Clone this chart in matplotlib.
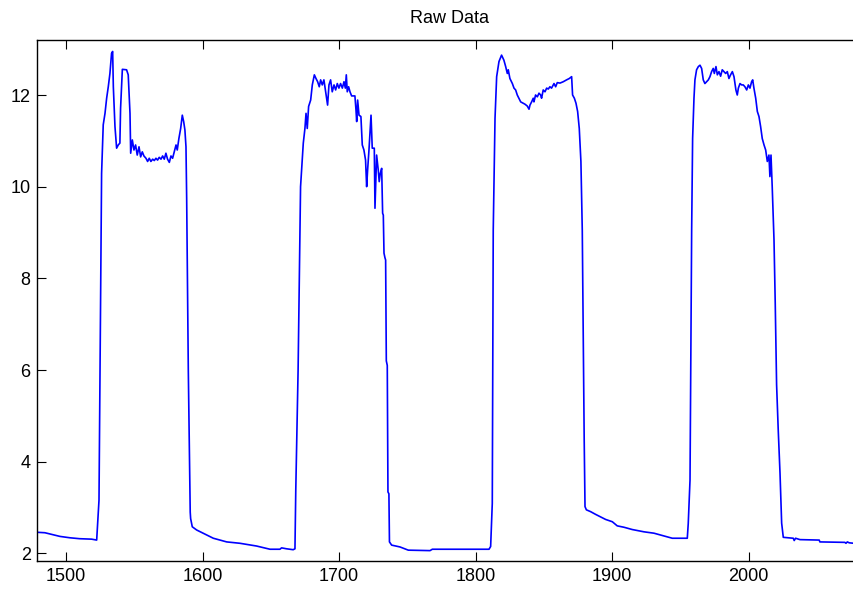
import matplotlib
matplotlib.use("Agg")
import matplotlib.pyplot as plt

plt.rcParams['font.family'] = ['Liberation Sans', 'DejaVu Sans']

x = [1478.8, 1484.6, 1490.0, 1495.6, 1502.9, 1510.0, 1518.8, 1522.5, 1524.2, 1525.8,
     1526.1, 1527.3, 1528.6, 1529.8, 1531.0, 1532.2, 1533.4, 1534.2, 1534.7, 1535.9,
     1537.1, 1538.3, 1539.5, 1540.0, 1541.3, 1544.4, 1545.6, 1546.9, 1547.4, 1548.6,
     1549.8, 1551.0, 1552.2, 1553.5, 1554.7, 1555.9, 1557.1, 1558.6, 1559.8, 1561.0,
     1562.2, 1563.5, 1564.7, 1565.9, 1567.1, 1568.3, 1569.6, 1570.8, 1572.0, 1573.2,
     1574.4, 1575.7, 1576.9, 1578.1, 1579.3, 1580.6, 1581.5, 1582.7, 1584.0, 1585.2,
     1586.2, 1587.1, 1587.9, 1588.4, 1589.6, 1591.0, 1591.3, 1592.5, 1595.7, 1600.5,
     1607.9, 1617.7, 1627.4, 1639.6, 1649.4, 1656.7, 1657.9, 1661.5, 1666.4, 1667.7,
     1668.3, 1670.0, 1671.4, 1671.8, 1673.1, 1673.8, 1675.0, 1675.8, 1676.7, 1677.7,
     1679.2, 1680.4, 1681.9, 1683.1, 1684.3, 1685.5, 1686.5, 1687.7, 1688.9, 1690.2,
     1691.6, 1692.6, 1693.8, 1695.0, 1696.3, 1697.5, 1698.7, 1699.9, 1701.1, 1702.4,
     1703.6, 1704.6, 1705.3, 1706.0, 1707.0, 1708.0, 1709.2, 1711.6, 1712.4, 1712.9,
     1713.6, 1714.6, 1716.0, 1717.0, 1718.2, 1719.4, 1720.2, 1720.9, 1721.9, 1723.4,
     1724.3, 1725.8, 1726.3, 1727.5, 1728.7, 1729.4, 1730.2, 1731.2, 1731.9, 1732.4,
     1732.9, 1733.6, 1734.1, 1734.6, 1735.3, 1735.8, 1736.5, 1736.9, 1738.5, 1744.6,
     1750.7, 1766.6, 1768.3, 1809.8,
     1811.0, 1812.2, 1812.9, 1814.2, 1815.4, 1817.1, 1819.0, 1820.7, 1822.0, 1823.2,
     1823.9, 1825.1, 1826.9, 1828.1, 1829.3, 1830.5, 1831.7, 1833.0, 1834.2, 1836.1,
     1837.8, 1839.1, 1839.8, 1841.0, 1842.2, 1842.7, 1843.9, 1845.2, 1846.4, 1847.6,
     1848.3, 1849.5, 1850.8, 1852.0, 1853.2, 1854.4, 1855.6, 1857.4, 1858.6, 1859.8,
     1861.8, 1864.2, 1866.6, 1868.6, 1870.3, 1871.0, 1872.3, 1873.5, 1874.7, 1875.9,
     1877.1, 1878.1, 1879.5, 1880.1, 1881.1, 1884.2, 1887.9, 1895.2, 1900.1, 1903.7,
     1908.6, 1914.7, 1923.3, 1930.6, 1937.9, 1944.0, 1955.0, 1955.7, 1957.0, 1958.2,
     1958.9, 1959.9, 1960.6, 1961.8, 1963.1, 1964.3, 1965.5, 1966.7, 1967.9, 1969.2,
     1970.4, 1971.6, 1972.8, 1974.0, 1974.8, 1976.0, 1977.0, 1978.2, 1979.4, 1980.6,
     1981.9, 1983.1, 1984.3, 1985.5, 1986.7, 1988.0, 1989.2, 1989.9, 1990.6, 1991.6,
     1992.4, 1993.6, 1994.8, 1996.0, 1997.2, 1998.5, 1999.7, 2000.9, 2002.1, 2002.9,
     2003.8, 2005.1, 2006.3, 2007.5, 2008.7, 2009.9, 2011.2, 2012.4, 2013.6, 2014.8,
     2015.5, 2016.3, 2017.2, 2018.5, 2019.4, 2020.4, 2021.6, 2022.9, 2024.1, 2025.3,
     2032.6, 2033.3, 2034.3, 2037.5, 2051.6, 2052.1, 2070.4, 2071.2, 2072.2, 2073.6,
     2077.0, 2083.0]

y = [2.46, 2.45, 2.41, 2.37, 2.34, 2.32, 2.31, 2.29, 3.16, 9.05,
     10.29, 11.35, 11.60, 11.93, 12.18, 12.47, 12.91, 12.95, 12.18, 11.31,
     10.84, 10.91, 10.95, 11.71, 12.56, 12.55, 12.44, 11.60, 10.73, 11.02,
     10.80, 10.91, 10.69, 10.87, 10.65, 10.76, 10.67, 10.62, 10.55, 10.62,
     10.55, 10.60, 10.57, 10.62, 10.58, 10.64, 10.60, 10.67, 10.60, 10.73,
     10.60, 10.53, 10.67, 10.62, 10.76, 10.91, 10.80, 11.05, 11.27, 11.56,
     11.42, 11.24, 10.87, 9.75, 6.00, 2.90, 2.76, 2.58, 2.51, 2.44,
     2.33, 2.25, 2.22, 2.16, 2.09, 2.09, 2.12, 2.10, 2.08, 2.10,
     3.38, 6.00, 9.05, 10.00, 10.62, 10.95, 11.27, 11.60, 11.27, 11.75,
     11.89, 12.22, 12.44, 12.36, 12.29, 12.18, 12.33, 12.22, 12.33, 12.07,
     11.78, 12.22, 12.33, 12.07, 12.22, 12.11, 12.25, 12.15, 12.25, 12.15,
     12.29, 12.15, 12.44, 12.07, 12.18, 12.07, 11.98, 11.98, 11.67, 11.42,
     11.89, 11.56, 11.53, 10.91, 10.80, 10.58, 10.00, 10.36, 10.80, 11.56,
     10.84, 10.84, 9.53, 10.69, 10.36, 10.11, 10.29, 10.40, 9.42, 9.38,
     8.55, 8.45, 8.40, 6.20, 6.10, 3.34, 3.30, 2.25, 2.18, 2.14,
     2.07, 2.06, 2.09, 2.09,
     2.15, 3.09, 9.05, 11.49, 12.40, 12.73, 12.87, 12.76, 12.62, 12.47,
     12.55, 12.36, 12.25, 12.15, 12.11, 12.00, 11.93, 11.85, 11.83, 11.80,
     11.76, 11.69, 11.78, 11.85, 11.93, 11.85, 12.00, 11.96, 12.04, 12.00,
     11.93, 12.11, 12.07, 12.15, 12.13, 12.18, 12.15, 12.25, 12.18, 12.27,
     12.26, 12.29, 12.33, 12.36, 12.40, 12.00, 11.93, 11.82, 11.64, 11.27,
     10.55, 9.05, 4.50, 3.02, 2.95, 2.91, 2.85, 2.74, 2.69, 2.60,
     2.57, 2.52, 2.47, 2.44, 2.38, 2.33, 2.33, 2.65, 3.60, 9.05,
     11.05, 11.93, 12.33, 12.55, 12.62, 12.65, 12.58, 12.33, 12.25, 12.29,
     12.33, 12.40, 12.51, 12.58, 12.47, 12.62, 12.44, 12.51, 12.41, 12.55,
     12.51, 12.47, 12.51, 12.36, 12.44, 12.51, 12.40, 12.25, 12.11, 12.00,
     12.15, 12.25, 12.22, 12.22, 12.18, 12.11, 12.22, 12.15, 12.29, 12.33,
     12.15, 11.93, 11.64, 11.53, 11.31, 11.05, 10.91, 10.80, 10.55, 10.69,
     10.22, 10.69, 9.99, 8.84, 7.46, 5.68, 4.69, 3.75, 2.66, 2.35,
     2.33, 2.28, 2.33, 2.30, 2.29, 2.25, 2.24, 2.22, 2.25, 2.23,
     2.22, 2.21]

xticks = [1500, 1600, 1700, 1800, 1900, 2000]
yticks = [2, 4, 6, 8, 10, 12]
title = "Raw Data"

fig = plt.figure(figsize=(8.54, 5.91), dpi=100)
ax = fig.add_axes([37 / 854, 30.3 / 591, 824.4 / 854, 520.7 / 591])
ax.plot(x, y, color='#0000ff', linewidth=1.2)
ax.set_xlim(1478.8, 2082.5)
ax.set_ylim(1.84, 13.2)
ax.set_xticks(xticks)
ax.set_yticks(yticks)
ax.tick_params(direction='in', length=6.5, width=0.8, labelsize=13, colors='black',
               top=True, right=False, pad=5)
ax.tick_params(axis='y', pad=4.5)
for s in ax.spines.values():
    s.set_linewidth(1.0)
ax.spines['right'].set_visible(False)
ax.set_title(title, fontsize=13, pad=12)
fig.savefig("out.png", dpi=100)
